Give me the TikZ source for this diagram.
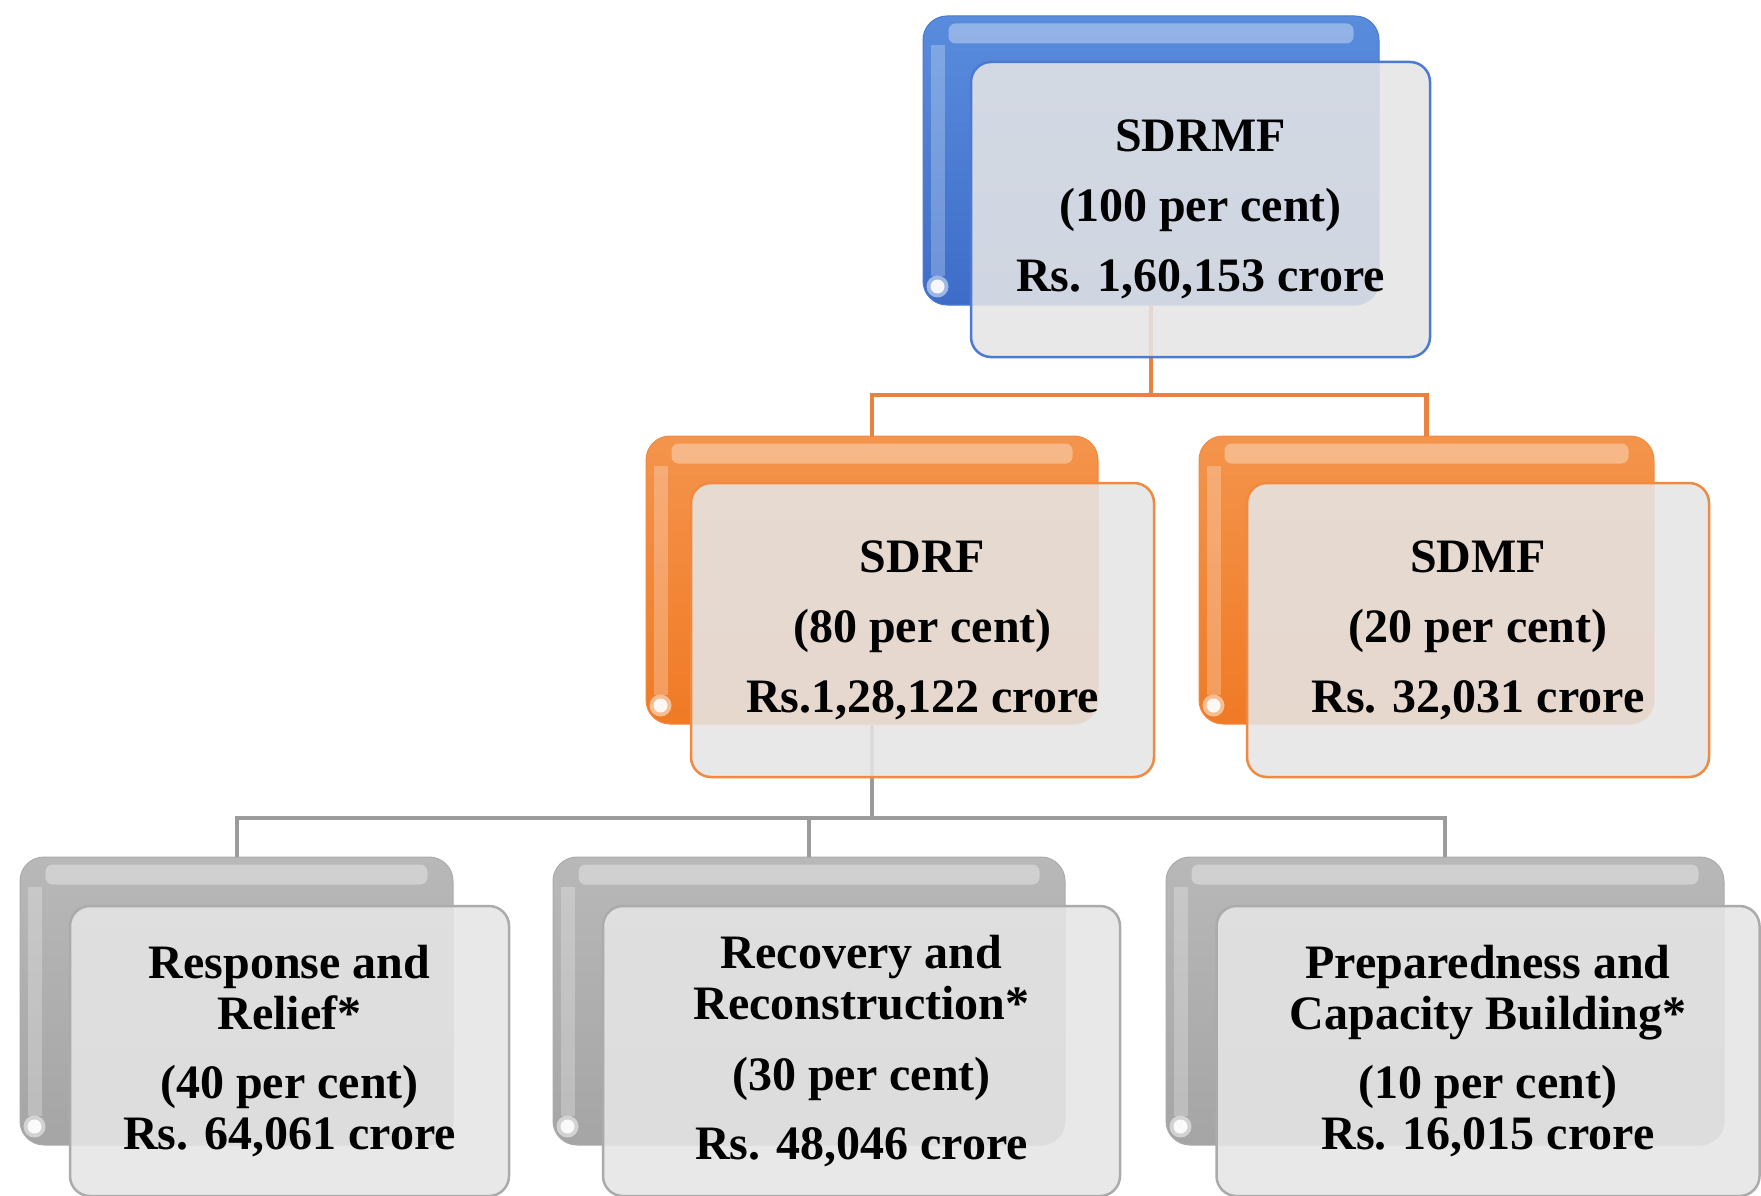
\documentclass[tikz,border=0pt]{standalone}
\usepackage{fontspec}
\setmainfont{Liberation Serif}
\definecolor{bluetop}{HTML}{5A8CDD}
\definecolor{bluebot}{HTML}{3D6DC8}
\definecolor{blueedge}{HTML}{4B7BD0}
\definecolor{orangetop}{HTML}{F4944C}
\definecolor{orangebot}{HTML}{F07A25}
\definecolor{orangeedge}{HTML}{F08A40}
\definecolor{graytop}{HTML}{B8B8B8}
\definecolor{graybot}{HTML}{A5A5A5}
\definecolor{grayedge}{HTML}{ABABAB}
\definecolor{frontfill}{HTML}{E5E5E5}
\definecolor{orangeline}{HTML}{E9823E}
\definecolor{grayline}{HTML}{9C9C9C}
\newcommand\glossit[1]{%
  \fill[white,opacity=.35,rounded corners=7pt] ([xshift=26pt,yshift=-8pt]#1.north west) rectangle ([xshift=-26pt,yshift=-28pt]#1.north east);
  \fill[white,opacity=.25] ([xshift=8pt,yshift=-30pt]#1.north west) rectangle ([xshift=22pt,yshift=30pt]#1.south west);
  \fill[white,opacity=.5] ([xshift=15pt,yshift=19pt]#1.south west) circle (11pt);
  \fill[white,opacity=.9] ([xshift=15pt,yshift=19pt]#1.south west) circle (7pt);}
\tikzset{
  backbox/.style n args={4}{rounded corners=24pt, inner sep=0pt, draw=#1, line width=1pt,
    top color=#2, bottom color=#3, minimum width=#4},
  frontbox/.style={rounded corners=20pt, draw=#1, line width=2.5pt, fill=frontfill,
    fill opacity=0.88, text opacity=1, inner sep=0pt, align=center,
    font=\fontsize{48}{51}\selectfont\bfseries},
  orangeconn/.style={draw=orangeline, line width=4.5pt},
  grayconn/.style={draw=grayline, line width=4pt},
}
\begin{document}
\begin{tikzpicture}[x=1pt,y=-1pt]
\useasboundingbox (0,0) rectangle (1761,1196);
% back boxes
\node[backbox={blueedge}{bluetop}{bluebot}{456pt}, minimum height=289pt] (rmfb) at (1151,160.5) {};
\node[backbox={orangeedge}{orangetop}{orangebot}{452pt}, minimum height=288pt] (sdrfb) at (872,580) {};
\node[backbox={orangeedge}{orangetop}{orangebot}{455pt}, minimum height=288pt] (sdmfb) at (1426.5,580) {};
\node[backbox={grayedge}{graytop}{graybot}{433pt}, minimum height=288pt] (respb) at (236.5,1001) {};
\node[backbox={grayedge}{graytop}{graybot}{512pt}, minimum height=288pt] (recb) at (809,1001) {};
\node[backbox={grayedge}{graytop}{graybot}{558pt}, minimum height=288pt] (prepb) at (1445,1001) {};
\glossit{rmfb}\glossit{sdrfb}\glossit{sdmfb}\glossit{respb}\glossit{recb}\glossit{prepb}
% connectors
\coordinate (j1) at (1151,395);
\draw[orangeconn] (rmfb.south) -- (j1);
\draw[orangeconn] (j1) -| (sdrfb.north);
\draw[orangeconn] (j1) -| (sdmfb.north);
\coordinate (j2) at (872,818);
\draw[grayconn] (sdrfb.south) -- (j2);
\draw[grayconn] (j2) -| (respb.north);
\draw[grayconn] (j2) -| (recb.north);
\draw[grayconn] (j2) -| (prepb.north);
% front boxes
\node[frontbox=blueedge, minimum width=459pt, minimum height=295pt] (rmf) at (1200.5,209.5)
  {SDRMF\\[19pt](100 per cent)\\[19pt]Rs. 1,60,153 crore};
\node[frontbox=orangeedge, minimum width=463pt, minimum height=294pt] (sdrf) at (922.5,630)
  {SDRF\\[19pt](80 per cent)\\[19pt]Rs.1,28,122 crore};
\node[frontbox=orangeedge, minimum width=462pt, minimum height=294pt] (sdmf) at (1478,630)
  {SDMF\\[19pt](20 per cent)\\[19pt]Rs. 32,031 crore};
\node[frontbox=grayedge, minimum width=439pt, minimum height=290pt] (resp) at (289.5,1051)
  {Response and\\Relief*\\[18pt](40 per cent)\\Rs. 64,061 crore};
\node[frontbox=grayedge, minimum width=517pt, minimum height=290pt] (rec) at (861.5,1051)
  {Recovery and\\Reconstruction*\\[20pt](30 per cent)\\[18pt]Rs. 48,046 crore};
\node[frontbox=grayedge, minimum width=543pt, minimum height=290pt] (prep) at (1488,1051)
  {Preparedness and\\Capacity Building*\\[18pt](10 per cent)\\Rs. 16,015 crore};
\end{tikzpicture}
\end{document}
